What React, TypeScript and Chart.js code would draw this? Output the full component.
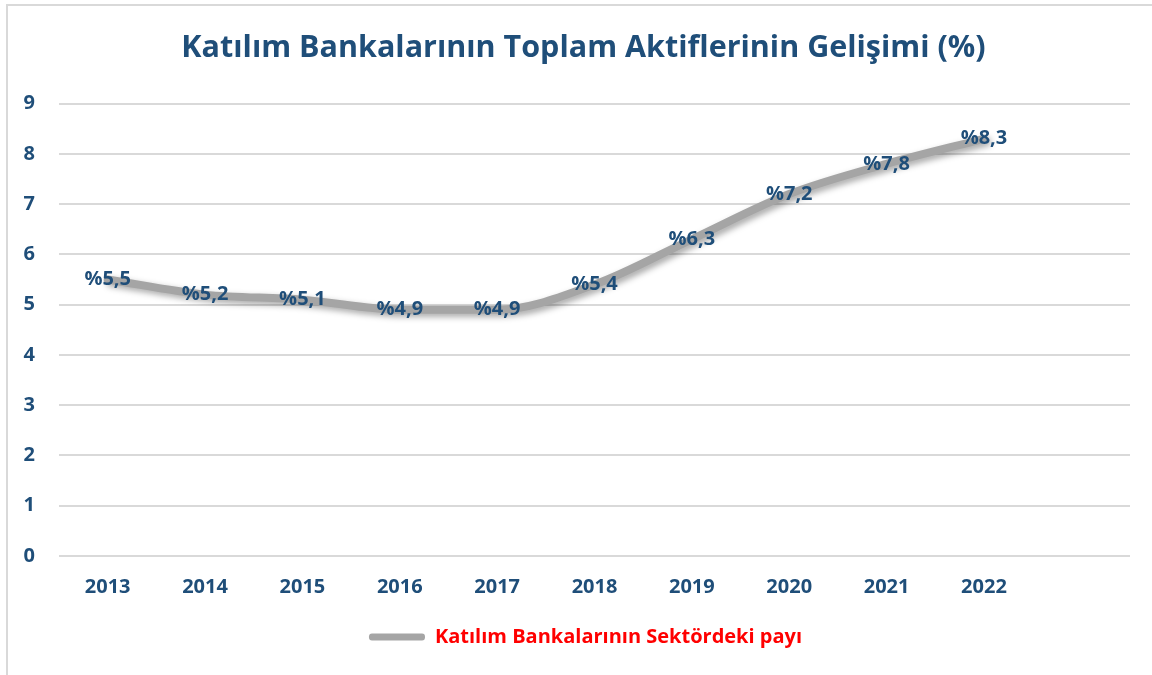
import React, { useEffect, useRef } from "react";
import { Chart, registerables } from "chart.js";

Chart.register(...registerables);

const years = ["2013", "2014", "2015", "2016", "2017", "2018", "2019", "2020", "2021", "2022", ""];
const shareValues = [5.5, 5.2, 5.1, 4.9, 4.9, 5.4, 6.3, 7.2, 7.8, 8.3, null];
const seriesName = "Katılım Bankalarının Sektördeki payı";
const chartTitle = "Katılım Bankalarının Toplam Aktiflerinin Gelişimi (%)";

const BLUE = "#1F4E79";
const FONT = "'Open Sans', sans-serif";

const labelPlugin = {
  id: "pointLabels",
  afterLayout(chart: any) {
    // title and legend are centred on the whole framed box, not the plot area
    if (chart.titleBlock) {
      chart.titleBlock.left = 15;
      chart.titleBlock.right = 1152;
    }
    if (chart.legend) {
      chart.legend.left = 19;
      chart.legend.right = 1152;
    }
  },
  beforeDatasetDraw(chart: any) {
    const ctx = chart.ctx;
    ctx.save();
    ctx.shadowColor = "rgba(0,0,0,0.35)";
    ctx.shadowBlur = 6;
    ctx.shadowOffsetX = 3;
    ctx.shadowOffsetY = 3;
  },
  afterDatasetDraw(chart: any) {
    chart.ctx.restore();
  },
  afterDatasetsDraw(chart: any) {
    const ctx = chart.ctx;
    const meta = chart.getDatasetMeta(0);
    ctx.save();
    ctx.font = `bold 20px ${FONT}`;
    ctx.fillStyle = BLUE;
    ctx.textAlign = "center";
    ctx.textBaseline = "middle";
    meta.data.forEach((pt: any, i: number) => {
      const v = shareValues[i];
      if (v == null) return;
      ctx.fillText("%" + String(v).replace(".", ","), pt.x, pt.y);
    });
    ctx.restore();
  },
};

export default function App() {
  const ref = useRef<HTMLCanvasElement>(null);
  useEffect(() => {
    if (!ref.current) return;
    const chart = new Chart(ref.current, {
      type: "line",
      data: {
        labels: years,
        datasets: [
          {
            label: seriesName,
            data: shareValues,
            borderColor: "#A5A5A5",
            backgroundColor: "#A5A5A5",
            borderWidth: 8,
            tension: 0.4,
            cubicInterpolationMode: "monotone",
            pointRadius: 0,
            borderCapStyle: "round",
            fill: false,
          },
        ],
      },
      options: {
        responsive: true,
        maintainAspectRatio: false,
        animation: false,
        layout: { padding: { left: 0, right: 22, top: 0, bottom: 18 } },
        plugins: {
          title: {
            display: true,
            text: chartTitle,
            color: BLUE,
            font: { family: FONT, size: 30.5, weight: "bold" },
            padding: { top: 30, bottom: 37 },
          },
          legend: {
            position: "bottom",
            labels: {
              color: "#FF0000",
              font: { family: FONT, size: 20, weight: "bold" },
              boxWidth: 56,
              boxHeight: 7,
              padding: 9,
              useBorderRadius: true,
              borderRadius: 3,
              generateLabels: () => [
                {
                  text: seriesName,
                  fillStyle: "#A5A5A5",
                  strokeStyle: "#A5A5A5",
                  lineWidth: 0,
                  hidden: false,
                  datasetIndex: 0,
                  fontColor: "#FF0000",
                  borderRadius: 3,
                } as any,
              ],
            },
          },
          tooltip: { enabled: false },
        },
        scales: {
          x: {
            offset: true,
            grid: { display: false, drawTicks: false },
            border: { display: false },
            ticks: {
              color: BLUE,
              font: { family: FONT, size: 20, weight: "bold" },
              padding: 19,
              maxRotation: 0,
              autoSkip: false,
            },
          },
          y: {
            min: 0,
            max: 9,
            afterFit: (scale: any) => {
              scale.width = 59;
            },
            grid: { color: "#D9D9D9", lineWidth: 2, drawTicks: false },
            border: { display: false },
            ticks: {
              stepSize: 1,
              color: BLUE,
              font: { family: FONT, size: 20, weight: "bold" },
              padding: 24,
            },
          },
        },
      },
      plugins: [labelPlugin],
    });
    return () => chart.destroy();
  }, []);

  return (
    <div style={{ position: "fixed", left: 0, top: 0, width: 1152, height: 675, background: "#fff", overflow: "hidden" }}>
      <div
        style={{
          position: "absolute",
          left: 6,
          top: 4,
          width: 1200,
          height: 700,
          borderLeft: "2px solid #D9D9D9",
          borderTop: "2px solid #D9D9D9",
        }}
      />
      <div style={{ position: "absolute", left: 0, top: 0, width: 1152, height: 675 }}>
        <canvas ref={ref} />
      </div>
    </div>
  );
}
